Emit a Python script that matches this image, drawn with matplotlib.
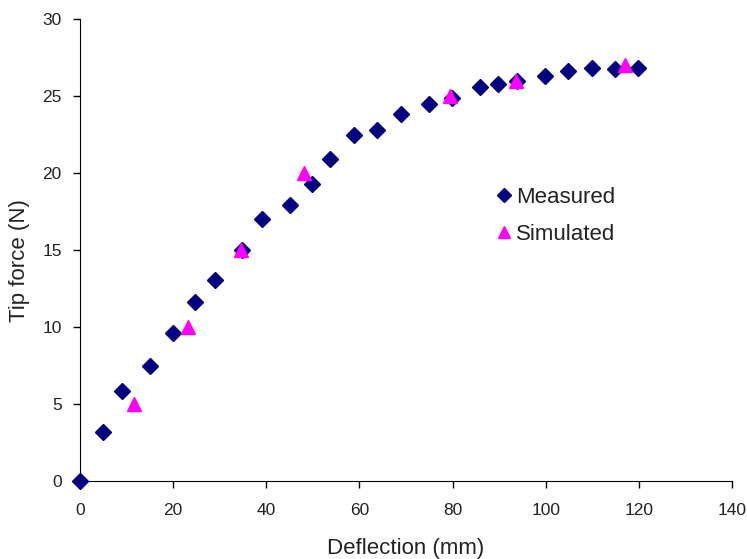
import matplotlib
matplotlib.use('Agg')
import matplotlib.pyplot as plt

plt.rcParams['font.family'] = ['Liberation Sans', 'DejaVu Sans']

# measured data
meas_x = [0, 4.9, 9.0, 15.0, 19.9, 24.8, 28.9, 34.9, 39.0, 45.0, 49.9, 53.7,
          58.9, 63.8, 68.9, 74.9, 79.9, 85.9, 89.7, 93.8, 99.8, 104.7, 109.9,
          114.8, 119.9]
meas_y = [0, 3.2, 5.85, 7.5, 9.6, 11.6, 13.05, 15.0, 17.0, 17.9, 19.3, 20.9,
          22.5, 22.8, 23.8, 24.5, 24.9, 25.6, 25.8, 26.0, 26.3, 26.6, 26.8,
          26.75, 26.8]

# simulated data
sim_x = [11.6, 23.1, 34.5, 48.0, 79.4, 93.6, 117.1]
sim_y = [5, 10, 15, 20, 25, 26, 27]

txt = '#222222'

fig = plt.figure(figsize=(7.47, 5.59), dpi=100)
ax = fig.add_axes([0.107, 0.1395, 0.873, 0.8265])

ax.plot(meas_x, meas_y, linestyle='none', marker='D', markersize=8,
        color='#000080', label='Measured', clip_on=False, zorder=3)
ax.plot(sim_x, sim_y, linestyle='none', marker='^', markersize=10,
        color='#ff00ff', label='Simulated', clip_on=False, zorder=4)

ax.set_xlim(0, 140)
ax.set_ylim(0, 30)
ax.set_xticks(range(0, 141, 20))
ax.set_yticks(range(0, 31, 5))
ax.spines['top'].set_visible(False)
ax.spines['right'].set_visible(False)
ax.tick_params(direction='out', length=5, width=1, labelsize=12.5,
               colors='black', labelcolor=txt)
ax.tick_params(axis='x', pad=11)
ax.tick_params(axis='y', pad=8)
ax.set_xlabel('Deflection (mm)', fontsize=16, color=txt, va='center')
ax.set_ylabel('Tip force (N)', fontsize=16, color=txt, va='center')
ax.xaxis.set_label_coords(0.5, -0.145)
ax.yaxis.set_label_coords(-0.092, 0.478)

ax.legend(loc='upper left', bbox_to_anchor=(0.636, 0.636), frameon=False,
          fontsize=16, handlelength=0.8, handletextpad=0.15, labelspacing=0.7,
          borderaxespad=0, borderpad=0, markerscale=0.85, labelcolor=txt)

fig.savefig('out.png', dpi=100)
